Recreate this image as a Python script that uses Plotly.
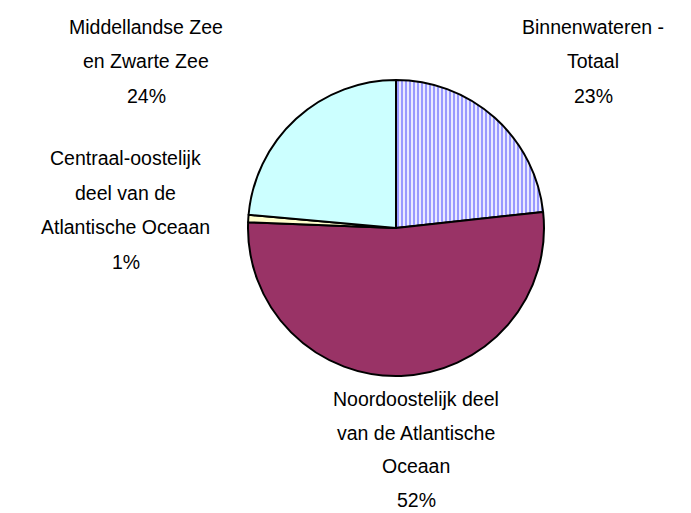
import plotly.graph_objects as go

W, H = 691, 513
OFF = 8  # page body margin

# Data
labels = ["Binnenwateren -<br>Totaal",
          "Noordoostelijk deel<br>van de Atlantische<br>Oceaan",
          "Centraal-oostelijk<br>deel van de<br>Atlantische Oceaan",
          "Middellandse Zee<br>en Zwarte Zee"]
values = [23.3, 52.4, 0.8, 23.6]
colors = ["#9999FF", "#993366", "#FFFFCC", "#CCFFFF"]

# label anchor (page pixel) positions of first line, and line spacing
label_pos = [(593, 27), (416, 399), (126, 158), (146, 27)]
line_gaps = [34.5, 33.5, 34.5, 34.5]

cx, cy, r = 396 - OFF, 228 - OFF, 148

fig = go.Figure()
fig.add_trace(go.Pie(
    labels=labels,
    values=values,
    sort=False,
    direction="clockwise",
    rotation=0,
    textinfo="none",
    hoverinfo="label+percent",
    showlegend=False,
    marker=dict(
        colors=["#FFFFFF", colors[1], colors[2], colors[3]],
        line=dict(color="#000000", width=2),
        pattern=dict(
            shape=["|", "", "", ""],
            fgcolor=[colors[0], colors[1], colors[2], colors[3]],
            bgcolor=["#FFFFFF", colors[1], colors[2], colors[3]],
            size=4,
            solidity=0.6,
            fgopacity=1,
            fillmode="overlay",
        ),
    ),
    domain=dict(x=[(cx - r) / W, (cx + r) / W],
                y=[1 - (cy + r) / H, 1 - (cy - r) / H]),
))

total = sum(values)
annotations = []
for lab, val, (px, py), gap in zip(labels, values, label_pos, line_gaps):
    lines = lab.split("<br>") + [f"{round(val / total * 100)}%"]
    for i, ln in enumerate(lines):
        y = py - OFF + i * gap
        annotations.append(dict(
            x=(px - OFF) / W, y=1 - y / H, xref="paper", yref="paper",
            text=ln, showarrow=False, xanchor="center", yanchor="middle",
            borderpad=0,
            font=dict(family="Liberation Sans, Arial, sans-serif",
                      size=19.5, color="#000000"),
        ))

fig.update_layout(
    width=W, height=H,
    margin=dict(l=0, r=0, t=0, b=0),
    paper_bgcolor="#FFFFFF",
    plot_bgcolor="#FFFFFF",
    annotations=annotations,
)

fig.write_html("out.html")
